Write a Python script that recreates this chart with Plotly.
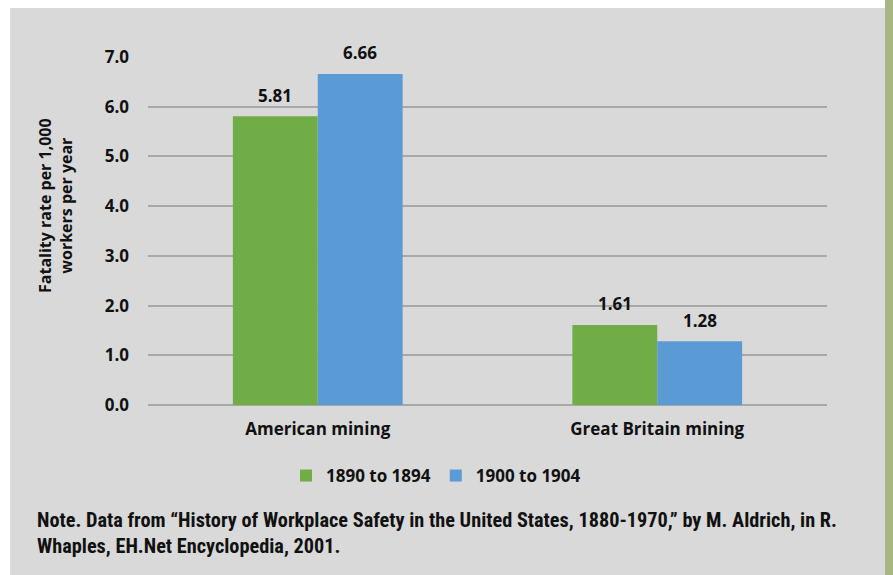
import plotly.graph_objects as go

categories = ["American mining", "Great Britain mining"]
series_names = ["1890 to 1894", "1900 to 1904"]
values_1890 = [5.81, 1.61]
values_1900 = [6.66, 1.28]
tick_vals = [0, 1, 2, 3, 4, 5, 6, 7]
tick_text = ["0.0", "1.0", "2.0", "3.0", "4.0", "5.0", "6.0", "7.0"]
colors = ["#70ad47", "#5b9bd5"]

FONT = "Roboto Condensed, Liberation Sans Narrow, Roboto, sans-serif"
FONT2 = "Open Sans, Lato, sans-serif"
INK = "#111111"

W, H = 893, 575
L, R, T, B = 148, 827, 57, 405
pw, ph = R - L, B - T


def px(x):
    return (x - L) / pw


def py(y):
    return (B - y) / ph


def f(size, fam=FONT2):
    return dict(family=fam, size=size, color=INK, weight="bold")


fig = go.Figure()
annotations = []
bar_half = pw / len(categories) * 0.5 / 2 / 2  # half of one bar width in px
for i, (name, vals, col) in enumerate(zip(series_names, [values_1890, values_1900], colors)):
    fig.add_trace(go.Bar(
        x=categories, y=vals, name=name, marker=dict(color=col, line=dict(width=0)),
    ))
    shift = -bar_half if i == 0 else bar_half
    for c, v in zip(categories, vals):
        annotations.append(dict(x=c, y=v, xref="x", yref="y", text=f"{v:.2f}", showarrow=False,
                                xshift=shift, yshift=21, yanchor="middle", xanchor="center",
                                font=f(17)))

annotations += [
    dict(text="Fatality rate per 1,000<br>workers per year", xref="paper", yref="paper",
         x=px(56), y=py(206), textangle=-90, showarrow=False, xanchor="center", yanchor="middle",
         font=f(16), align="center"),
    dict(text="Note. Data from “History of Workplace Safety in the United States, 1880-1970,” by M. Aldrich, in R.<br>Whaples, EH.Net Encyclopedia, 2001.",
         xref="paper", yref="paper", x=px(35), y=py(506), xanchor="left", yanchor="top", showarrow=False,
         align="left", font=f(20.3, FONT)),
]

fig.update_layout(
    width=W, height=H,
    margin=dict(l=L, r=W - R, t=T, b=H - B, pad=0),
    barmode="group", bargap=0.5, bargroupgap=0,
    paper_bgcolor="white", plot_bgcolor="#d9d9d9",
    font=f(16),
    showlegend=True,
    legend=dict(orientation="h", x=px(436), xanchor="center", y=py(458), yanchor="top",
                font=f(17), bgcolor="rgba(0,0,0,0)", itemwidth=30, traceorder="normal"),
    xaxis=dict(showgrid=False, showline=False, ticks="", tickfont=f(17), ticklabelstandoff=12),
    yaxis=dict(range=[0, 7], tickvals=tick_vals, ticktext=tick_text, showgrid=True,
               gridcolor="#a8a8a8", gridwidth=1.5, zeroline=True, zerolinecolor="#a8a8a8", zerolinewidth=1.5,
               showline=False, ticks="", tickfont=f(17), ticklabelstandoff=18),
    shapes=[
        dict(type="rect", xref="paper", yref="paper", x0=px(10), x1=px(885), y0=py(580), y1=py(8),
             fillcolor="#d9d9d9", line=dict(width=0), layer="below"),
        dict(type="rect", xref="paper", yref="paper", x0=px(885), x1=px(893), y0=py(580), y1=py(0),
             fillcolor="#a8b585", line=dict(width=0), layer="below"),
    ],
    annotations=annotations,
)
fig.write_html("out.html", config={"displayModeBar": False},
               post_script="document.body.style.margin='0px';")
